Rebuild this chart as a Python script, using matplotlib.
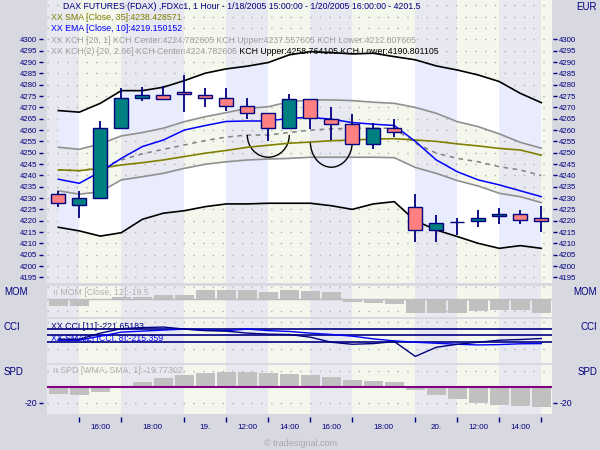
import numpy as np
import matplotlib.pyplot as plt
from matplotlib.patches import Arc

plt.rcParams['font.family'] = ['Liberation Sans', 'DejaVu Sans']
plt.rcParams['axes.unicode_minus'] = False

# hourly FDAX bars, 1/18 15:00 .. 1/20 16:00
opens = [4232, 4227, 4230, 4261, 4274, 4275.5, 4277, 4275.5, 4274, 4270.5, 4267.5, 4261,
         4273.5, 4265, 4262.5, 4254, 4261, 4226, 4216, 4219.3, 4219.7, 4222, 4223, 4221]
closes = [4228, 4230, 4261, 4274, 4275.5, 4273.5, 4276, 4274, 4270.5, 4267.5, 4261, 4273.5,
          4265.5, 4262.5, 4254, 4261, 4259, 4216, 4219, 4219.3, 4221, 4223, 4220.5, 4219.7]
highs = [4233, 4233, 4264, 4278.5, 4279, 4279.5, 4284.5, 4278.5, 4278.5, 4274, 4267.5, 4276,
         4273.5, 4270, 4267, 4263, 4265, 4232, 4222.5, 4221, 4224.5, 4225.5, 4224.5, 4226.5]
lows = [4226, 4221, 4230, 4261, 4273, 4273.5, 4268, 4270, 4268.5, 4265, 4255, 4261,
        4260.5, 4255.5, 4254, 4251.5, 4257, 4210.5, 4210.5, 4213.5, 4217, 4218.7, 4218.7, 4215]

ema10 = [4238.3, 4236.5, 4241.6, 4247.5, 4252.7, 4255.6, 4260, 4262, 4263.8, 4264, 4264, 4265.2,
         4265.6, 4264.8, 4263.3, 4262.6, 4262, 4255, 4246.8, 4241.6, 4238, 4235.8, 4233.2, 4230.6]
sma35 = [4242.4, 4242.1, 4243.1, 4244.6, 4245.6, 4246.8, 4248.3, 4249.8, 4251, 4252.4, 4253.3, 4254.2,
         4254.7, 4255.3, 4255.6, 4256, 4256.2, 4255.6, 4255, 4253.9, 4253, 4251.9, 4251.2, 4248.9]
kch_mid = [4242.5, 4242, 4243.5, 4246.8, 4249.5, 4251.5, 4253.4, 4255.4, 4256.9, 4257.8, 4257.8, 4258.9,
           4260, 4260.5, 4260.8, 4260.8, 4260.8, 4254.2, 4249.8, 4247.5, 4246, 4243.8, 4242.4, 4239.9]
kch_up = [4252.4, 4251.5, 4253.9, 4257.4, 4258.9, 4260.8, 4263.7, 4265.9, 4267.7, 4269.6, 4270.3, 4272.5,
          4273.3, 4273.3, 4273, 4272.3, 4271.8, 4270, 4267.4, 4263.7, 4261.5, 4258.3, 4254.6, 4252]
kch_lo = [4233.2, 4231.7, 4232.8, 4238, 4239.4, 4240.9, 4243.1, 4244.9, 4246, 4246.8, 4247.2, 4247.5,
          4248, 4248, 4248, 4248, 4247.8, 4243.5, 4240.9, 4237.7, 4235.3, 4232.1, 4230.6, 4228]
kch2_up = [4268.6, 4267.9, 4271.8, 4277.4, 4277.4, 4278.9, 4281.8, 4285.1, 4287, 4288.2, 4289.8, 4293.2,
           4294.6, 4294.2, 4293.6, 4293.9, 4292.4, 4291, 4288.3, 4286.5, 4284.3, 4281.4, 4276.2, 4272.1]
kch2_lo = [4217.1, 4215.5, 4213.2, 4214.7, 4220.6, 4223.3, 4224.4, 4226.2, 4227.4, 4227.4, 4227.7, 4227.7,
           4227.7, 4226.6, 4225, 4227.4, 4228.4, 4220, 4215.9, 4213, 4210, 4207.8, 4209, 4207.8]

# drawn rounding-bottom arcs: bar index of centre, top price, depth
arc_centers = [10, 13]
arc_tops = [4257.8, 4254.9]
arc_depths = [9.8, 11.3]

mom = [-29, -29, -1, 11, 11, 17, 17, 38, 38, 38, 31, 38,
       34, 29, -11, -16, -20, -56, -56, -56, -49, -45, -45, -56]
cci = [-55, -55, 35, 100, 117, 125, 95, 72, 65, 35, 20, 15,
       -25, -100, -130, -120, -90, -310, -175, -130, -100, -70, -60, -45]
cci_sma = [-70, -70, -10, 50, 65, 80, 95, 80, 72, 95, 72, 60,
           35, 15, -10, -50, -80, -100, -115, -130, -140, -135, -123, -120]
spd = [-8.75, -10.4, -6.7, 0, 6.25, 10.8, 14.6, 17, 18.3, 18.3, 17, 15.8,
       14.6, 12, 8.3, 7.1, 5.8, -4.2, -10.4, -15.4, -20, -22.9, -24.2, -25.4]

session_breaks = [1, 3, 6, 8, 10, 12, 14, 17, 19, 21, 23]
time_labels = ['16:00', '18:00', '19.', '12:00', '14:00', '16:00', '18:00', '20.', '12:00', '14:00']

NAVY = '#000080'
LAV = '#e8e8f0'
YEL = '#f4f8ec'
MARGIN = '#d8d8e0'
DOTS = '#b0b0b8'
W, H = 600, 450

fig = plt.figure(figsize=(6, 4.5), dpi=100, facecolor=MARGIN)


def box(top, bottom, left=47.3, right=552):
    return [left / W, 1 - bottom / H, (right - left) / W, (bottom - top) / H]


def ftext(px, py, s, **kw):
    return fig.text(px / W, 1 - py / H, s, va='center', **kw)


ax = fig.add_axes(box(0, 283))
ax_mom = fig.add_axes(box(285.5, 317), sharex=ax)
ax_cci = fig.add_axes(box(319, 362.5), sharex=ax)
ax_spd = fig.add_axes(box(364.5, 413.5), sharex=ax)
panels = [ax, ax_mom, ax_cci, ax_spd]

x = np.arange(len(closes))
ax.set_xlim(-0.524, 23.51)
edges = [-1] + session_breaks + [24]

for a in panels:
    a.set_facecolor(LAV)
    for s in a.spines.values():
        s.set_visible(False)
    for k in range(len(edges) - 1):
        if k % 2 == 1:
            a.axvspan(edges[k], edges[k + 1], color=YEL, lw=0, zorder=0)
    a.tick_params(axis='x', which='both', bottom=False, labelbottom=False)

# ---- main price panel
ax.set_ylim(4192.5, 4317.4)
for v in range(4195, 4320, 5):
    ax.axhline(v, color=DOTS, lw=1, ls=(0, (1, 6)), zorder=0.5)

strips = [ax.fill_between(x, kch_up, kch2_up, color='white', lw=0, zorder=1),
          ax.fill_between(x, kch2_lo, kch_lo, color='white', lw=0, zorder=1)]
for k in range(0, len(edges) - 1, 2):
    for st in strips:
        r = ax.axvspan(edges[k], edges[k + 1], color='#e8ecfc', lw=0, zorder=1.2)
        r.set_clip_path(st.get_paths()[0], ax.transData)

ax.plot(x, kch2_up, color='black', lw=1.2, zorder=3)
ax.plot(x, kch2_lo, color='black', lw=1.2, zorder=3)
ax.plot(x, kch_up, color='#909090', lw=1.2, zorder=3)
ax.plot(x, kch_lo, color='#909090', lw=1.2, zorder=3)
ax.plot(x, kch_mid, color='#808080', lw=1.1, ls=(0, (3, 3)), zorder=3)
ax.plot(x, sma35, color='#808000', lw=1.2, zorder=3.2)
ax.plot(x, ema10, color='#0000ff', lw=1.1, zorder=3.3)

for cx, top, d in zip(arc_centers, arc_tops, arc_depths):
    ax.add_patch(Arc((cx, top), 2, 2 * d, theta1=180, theta2=360, color='black', lw=1, zorder=3))

o = np.array(opens)
c = np.array(closes)
body_col = np.where(c > o, '#008080', '#ff8080')
ax.vlines(x, lows, highs, color=NAVY, lw=1.3, zorder=4)
ax.bar(x, np.abs(c - o), bottom=np.minimum(o, c), width=0.67, color=body_col,
       edgecolor=NAVY, lw=1, zorder=5)

ax.set_yticks(range(4195, 4301, 5))
ax.tick_params(axis='y', left=True, right=True, labelleft=True, labelright=True,
               direction='out', length=2.9, width=1, color=NAVY, labelcolor=NAVY,
               labelsize=5.6, pad=1.6)
ax.spines['left'].set_position(('outward', 2.9))
ax.spines['right'].set_position(('outward', 0.8))

# ---- momentum panel
ax_mom.set_ylim(-74.3, 58)
ax_mom.bar(x, mom, width=0.9, color='#c0c0c0', zorder=2)
ax_mom.axhline(0, color='#b8b8c0', lw=1, zorder=1.5)
for v in (50, -50):
    ax_mom.axhline(v, color=DOTS, lw=1, ls=(0, (1, 6)), zorder=0.5)
ax_mom.set_yticks([])
ax_mom.text(0.012, 0.77, 'ıı MOM [Close, 12]:-19.5', transform=ax_mom.transAxes,
            color='#b0b0b0', fontsize=6.3, va='center', zorder=1)

# ---- CCI panel
ax_cci.set_ylim(-400.5, 244.5)
for v in (200, -200):
    ax_cci.axhline(v, color=DOTS, lw=1, ls=(0, (1, 6)), zorder=0.5)
for v in (100, 0, -100):
    ax_cci.axhline(v, color=NAVY, lw=1.2, zorder=2)
ax_cci.plot(x, cci_sma, color='#0000ff', lw=1, zorder=3)
ax_cci.plot(x, cci, color=NAVY, lw=1, zorder=3)
ax_cci.set_yticks([])
ax_cci.text(0.008, 0.83, 'XX CCI [11]:-221.65183', transform=ax_cci.transAxes,
            color=NAVY, fontsize=6.3, va='center', zorder=1)
ax_cci.text(0.008, 0.55, 'XX SMA[2] [CCI, 8]:-215.359', transform=ax_cci.transAxes,
            color='#0000ff', fontsize=6.3, va='center', zorder=1)

# ---- SPD panel
ax_spd.set_ylim(-33.5, 27.75)
ax_spd.bar(x, spd, width=0.9, color='#c0c0c0', zorder=2)
ax_spd.axhline(0, color='#800080', lw=1.5, zorder=3)
for v in (20, -20):
    ax_spd.axhline(v, color=DOTS, lw=1, ls=(0, (1, 6)), zorder=0.5)
ax_spd.set_yticks([-20])
ax_spd.tick_params(axis='y', left=True, right=True, labelleft=True, labelright=True,
                   direction='out', length=2.9, width=1, color=NAVY, labelcolor=NAVY,
                   labelsize=6.3, pad=1.6)
ax_spd.spines['left'].set_position(('outward', 2.9))
ax_spd.spines['right'].set_position(('outward', 0.8))
ax_spd.text(0.012, 0.88, 'ıı SPD [WMA, SMA, 1]:-19.77302', transform=ax_spd.transAxes,
            color='#b0b0b0', fontsize=6.3, va='center', zorder=1)

# time axis
mids = [(a + b) / 2 for a, b in zip(session_breaks[:-1], session_breaks[1:])]
ax_spd.set_xticks(session_breaks)
ax_spd.set_xticks(mids, time_labels, minor=True)
ax_spd.spines['bottom'].set_position(('outward', 2.2))
ax_spd.tick_params(axis='x', which='major', bottom=True, length=3.6, width=1, color=NAVY,
                   labelbottom=False)
ax_spd.tick_params(axis='x', which='minor', bottom=True, length=0, labelbottom=True,
                   labelcolor=NAVY, labelsize=5.8, pad=5.2)

# ---- headers and side labels
ftext(63.3, 6.5, 'DAX FUTURES (FDAX) ,FDXc1, 1 Hour - 1/18/2005 15:00:00 - 1/20/2005 16:00:00 - 4201.5',
      color=NAVY, fontsize=6.3)
ftext(50.7, 17.5, 'XX SMA [Close, 35]:4238.428571', color='#808000', fontsize=6.3)
ftext(50.7, 28.8, 'XX EMA [Close, 10]:4219.150152', color='#0000ff', fontsize=6.3)
ftext(50.7, 40.2, 'XX KCH [20, 1] KCH Center:4224.782605 KCH Upper:4237.557605 KCH Lower:4212.007605',
      color='#a0a0a0', fontsize=6.3)
t5 = ftext(50.7, 51.6, 'XX KCH(2) [20, 2.66] KCH Center:4224.782605', color='#a0a0a0', fontsize=6.3)
fig.add_artist(plt.Annotation(' KCH Upper:4258.764105 KCH Lower:4190.801105', xy=(1, 0.5),
                              xycoords=t5, va='center', ha='left', color='black', fontsize=6.3))

ftext(597, 6.5, 'EUR', ha='right', color=NAVY, fontsize=7)
for name, py in (('MOM', 292.3), ('CCI', 326.5), ('SPD', 371.7)):
    ftext(4, py, name, ha='left', color=NAVY, fontsize=7)
    ftext(597, py, name, ha='right', color=NAVY, fontsize=7)
ftext(300, 444, '© tradesignal.com', ha='center', color='#a8a8b0', fontsize=6.5)

fig.savefig('out.png', dpi=100, facecolor=MARGIN)
